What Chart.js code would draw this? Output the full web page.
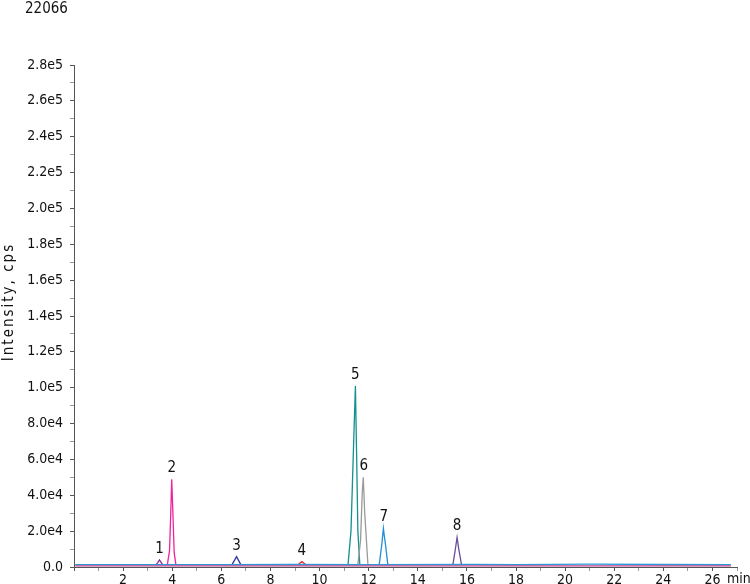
<!DOCTYPE html>
<html>
<head>
<meta charset="utf-8">
<script src="https://cdn.jsdelivr.net/npm/chart.js@4.4.1/dist/chart.umd.min.js"></script>
<style>
  html, body { margin: 0; padding: 0; background: #fff; }
  #wrap { width: 750px; height: 584px; position: relative; }
</style>
</head>
<body>
<div id="wrap"><canvas id="xic" width="750" height="584"></canvas></div>
<script>
// Chromatogram data (time in min, intensity in cps)
const headerText = "22066";
const yTitle = "Intensity, cps";
const xUnit = "min";

const baseTimeA = [0.05, 3.0, 6.0, 9.0, 12.0, 16.3, 18.0, 21.0, 24.0, 26.75];
const baseIntA = [1300, 1350, 1300, 1400, 1300, 1500, 1350, 1600, 1400, 1300];
const baseTimeB = [0.05, 26.75];
const baseIntB = [600, 600];

const peak1Time = [3.33, 3.42, 3.48, 3.54, 3.62];
const peak1Int = [1200, 2600, 3900, 2700, 1200];
const peak2Time = [3.8, 3.89, 3.94, 3.98, 4.02, 4.08, 4.15];
const peak2Int = [1200, 9000, 30000, 49000, 33000, 8000, 1200];
const peak3Time = [6.43, 6.54, 6.62, 6.69, 6.8];
const peak3Int = [1200, 3800, 5800, 4000, 1200];
const peak4Time = [9.13, 9.22, 9.28, 9.34, 9.44];
const peak4Int = [1300, 2400, 3000, 2400, 1300];
const peak5Time = [11.16, 11.28, 11.39, 11.46, 11.51, 11.56, 11.64];
const peak5Int = [1300, 20000, 70000, 101000, 62000, 20000, 1300];
const peak6Time = [11.56, 11.67, 11.74, 11.78, 11.84, 11.97];
const peak6Int = [1300, 15000, 42000, 50000, 30000, 1300];
const peak7Time = [12.43, 12.53, 12.6, 12.64, 12.69, 12.78];
const peak7Int = [1300, 12000, 21500, 17000, 12000, 1300];
const peak8Time = [15.43, 15.52, 15.6, 15.67, 15.78];
const peak8Int = [1300, 9000, 16500, 10000, 1300];

const peakLabels = ["1", "2", "3", "4", "5", "6", "7", "8"];
const labelTime = [3.48, 3.98, 6.62, 9.28, 11.46, 11.8, 12.62, 15.6];
const labelInt = [3900, 49000, 5800, 3000, 101000, 50000, 21500, 16500];

const xMax = 27;
const yMax = 280000;

const COLORS = {
  baseA: "#2a9ad6",
  baseB: "#c04090",
  p1: "#8a2a9a",
  p2: "#f0239a",
  p3: "#2e3a9a",
  p4: "#e8242c",
  p5: "#14908e",
  p6: "#9a9a9a",
  p7: "#1f8fd8",
  p8: "#6a4c9c",
  axis: "#555555",
  minor: "#9a9a9a",
  text: "#111111",
};

const FONT = "'DejaVu Sans Condensed', 'DejaVu Sans', sans-serif";

function toPoints(times, ints) {
  return times.map((t, i) => ({ x: t, y: ints[i] }));
}

function trace(times, ints, color) {
  return {
    data: toPoints(times, ints),
    borderColor: color,
    borderWidth: 1.3,
    pointRadius: 0,
    tension: 0,
    fill: false,
  };
}

// Header, rotated y title, unit and peak numbers
const annotate = {
  id: "annotate",
  afterDatasetsDraw(chart) {
    const c = chart.ctx;
    const xs = chart.scales.x;
    const ys = chart.scales.y;
    c.save();
    c.fillStyle = COLORS.text;
    c.font = "15px " + FONT;
    c.textAlign = "left";
    c.textBaseline = "top";
    c.fillText(headerText, 25, 2);

    c.font = "14px " + FONT;
    c.fillText(xUnit, 727, 572);

    c.font = "15px " + FONT;
    c.textAlign = "center";
    c.textBaseline = "alphabetic";
    peakLabels.forEach((lab, i) => {
      const px = xs.getPixelForValue(labelTime[i]);
      const py = ys.getPixelForValue(labelInt[i]);
      c.fillText(lab, px, py - 7);
    });

    c.translate(13, 302);
    c.rotate(-Math.PI / 2);
    c.font = "15px " + FONT;
    c.letterSpacing = "2px";
    c.textAlign = "center";
    c.textBaseline = "alphabetic";
    c.fillText(yTitle, 0, 0);
    c.restore();
  },
};

new Chart(document.getElementById("xic"), {
  type: "line",
  data: {
    datasets: [
      trace(baseTimeB, baseIntB, COLORS.baseB),
      trace(baseTimeA, baseIntA, COLORS.baseA),
      trace(peak1Time, peak1Int, COLORS.p1),
      trace(peak2Time, peak2Int, COLORS.p2),
      trace(peak3Time, peak3Int, COLORS.p3),
      trace(peak4Time, peak4Int, COLORS.p4),
      trace(peak6Time, peak6Int, COLORS.p6),
      trace(peak5Time, peak5Int, COLORS.p5),
      trace(peak7Time, peak7Int, COLORS.p7),
      trace(peak8Time, peak8Int, COLORS.p8),
    ],
  },
  options: {
    responsive: false,
    animation: false,
    layout: { padding: { top: 65, right: 13, left: 0, bottom: 0 } },
    plugins: { legend: { display: false }, tooltip: { enabled: false } },
    scales: {
      x: {
        type: "linear",
        min: 0,
        max: xMax,
        afterFit(scale) { scale.height = 17; },
        border: { color: COLORS.axis, width: 1 },
        grid: {
          drawOnChartArea: false,
          tickLength: 4,
          tickColor: (ctx) => (ctx.tick && ctx.tick.value % 2 === 0 ? COLORS.axis : COLORS.minor),
        },
        ticks: {
          stepSize: 1,
          autoSkip: false,
          maxRotation: 0,
          padding: 1,
          color: COLORS.text,
          font: { family: FONT, size: 14 },
          callback: (v) => (v > 0 && v % 2 === 0 && v <= 26 ? String(v) : ""),
        },
      },
      y: {
        min: 0,
        max: yMax,
        afterFit(scale) { scale.width = 74; },
        border: { color: COLORS.axis, width: 1 },
        grid: {
          drawOnChartArea: false,
          tickLength: 4,
          tickColor: (ctx) => (ctx.tick && ctx.tick.value % 20000 === 0 ? COLORS.axis : COLORS.minor),
        },
        ticks: {
          stepSize: 10000,
          autoSkip: false,
          padding: 7,
          color: COLORS.text,
          font: { family: FONT, size: 14 },
          callback: (v) => {
            if (v % 20000 !== 0) return "";
            if (v === 0) return "0.0";
            return v.toExponential(1).replace("e+", "e");
          },
        },
      },
    },
  },
  plugins: [annotate],
});
</script>
</body>
</html>
